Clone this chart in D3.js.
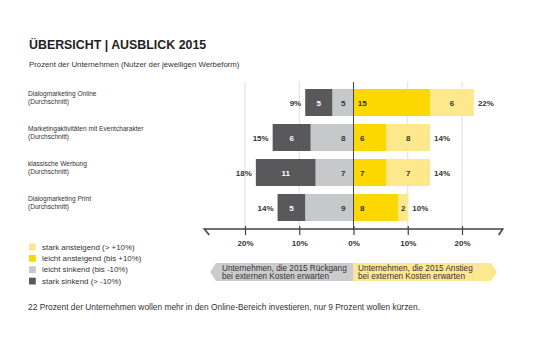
<!DOCTYPE html>
<html><head><meta charset="utf-8">
<script src="https://cdn.jsdelivr.net/npm/d3@7"></script>
<style>body{margin:0;background:#fff}svg{display:block;font-family:"Liberation Sans",Arial,sans-serif}</style>
</head><body><svg id="c" width="535" height="357"></svg>
<script>
const categories = ["Dialogmarketing Online", "Marketingaktivitäten mit Eventcharakter", "klassische Werbung", "Dialogmarketing Print"];
const subLabel = "(Durchschnitt)";
// segment lengths (percent)
const starkSinkend = [5.0, 7.0, 11.0, 5.1];
const leichtSinkend = [3.9, 7.9, 7.0, 8.9];
const leichtAnsteigend = [14.1, 6.1, 6.1, 8.2];
const starkAnsteigend = [8.1, 8.0, 8.0, 1.9];
// printed numbers
const starkSinkendLabels = [5, 6, 11, 5];
const leichtSinkendLabels = [5, 8, 7, 9];
const leichtAnsteigendLabels = [15, 6, 7, 8];
const starkAnsteigendLabels = [6, 8, 7, 2];
const totalDown = [9, 15, 18, 14];
const totalUp = [22, 14, 14, 10];
const tickValues = [-20, -10, 0, 10, 20];
const legendItems = ["stark ansteigend (> +10%)", "leicht ansteigend (bis +10%)", "leicht sinkend (bis -10%)", "stark sinkend (> -10%)"];

const C = {dark:"#59595b", gray:"#c7c8c9", yellow:"#fdd800", lightYellow:"#fde98c", bannerGray:"#cbcccd", bannerYellow:"#fee88f", text:"#333"};
const legendColors = [C.lightYellow, C.yellow, C.gray, C.dark];

const svg = d3.select("#c");
const x = d3.scaleLinear().domain([-20, 20]).range([245, 462]);
const y = d3.scaleBand().domain(categories).range([85, 225]).paddingInner(0.2286).paddingOuter(0.1143);
const axisY = 229;

svg.append("text").attr("x", 29).attr("y", 49).attr("font-size", 12.4).attr("font-weight", "bold").attr("fill", "#222").text("ÜBERSICHT | AUSBLICK 2015");
svg.append("text").attr("x", 29).attr("y", 67).attr("font-size", 7.8).attr("fill", C.text).text("Prozent der Unternehmen (Nutzer der jeweiligen Werbeform)");

// gridlines
svg.append("g").selectAll("line").data(tickValues.filter(d => d !== 0)).join("line")
  .attr("x1", d => x(d)).attr("x2", d => x(d)).attr("y1", 82).attr("y2", axisY)
  .attr("stroke", "#d6d6d6").attr("stroke-width", 0.8);

// category labels
const cat = svg.append("g").selectAll("g").data(categories).join("g")
  .attr("transform", d => `translate(28,${y(d)})`);
cat.append("text").attr("y", 6.5).attr("font-size", 6.6).attr("fill", C.text).text(d => d);
cat.append("text").attr("y", 15).attr("font-size", 6.6).attr("fill", C.text).text(subLabel);

// bars
const rows = categories.map((c, i) => ({c, i}));
const g = svg.append("g");
const bw = y.bandwidth();
g.selectAll(".ls").data(rows).join("rect").attr("x", d => x(-leichtSinkend[d.i])).attr("width", d => x(0) - x(-leichtSinkend[d.i]))
  .attr("y", d => y(d.c)).attr("height", bw).attr("fill", C.gray);
g.selectAll(".ss").data(rows).join("rect").attr("x", d => x(-leichtSinkend[d.i] - starkSinkend[d.i])).attr("width", d => x(0) - x(-starkSinkend[d.i]))
  .attr("y", d => y(d.c)).attr("height", bw).attr("fill", C.dark);
g.selectAll(".la").data(rows).join("rect").attr("x", x(0)).attr("width", d => x(leichtAnsteigend[d.i]) - x(0))
  .attr("y", d => y(d.c)).attr("height", bw).attr("fill", C.yellow);
g.selectAll(".sa").data(rows).join("rect").attr("x", d => x(leichtAnsteigend[d.i])).attr("width", d => x(starkAnsteigend[d.i]) - x(0))
  .attr("y", d => y(d.c)).attr("height", bw).attr("fill", C.lightYellow);

// labels in bars
const lab = (xf, txt, col, anchor) => g.append("g").selectAll("text").data(rows).join("text")
  .attr("x", xf).attr("y", d => y(d.c) + bw / 2 + 3).attr("font-size", 8).attr("font-weight", "bold")
  .attr("fill", col).attr("text-anchor", anchor || "middle").text(txt);
lab(d => (x(-leichtSinkend[d.i] - starkSinkend[d.i]) + x(-leichtSinkend[d.i])) / 2, d => starkSinkendLabels[d.i], "#fff");
lab(d => x(-1.9), d => leichtSinkendLabels[d.i], "#333");
lab(d => x(1.6), d => leichtAnsteigendLabels[d.i], "#333");
lab(d => (x(leichtAnsteigend[d.i]) + x(leichtAnsteigend[d.i] + starkAnsteigend[d.i])) / 2, d => starkAnsteigendLabels[d.i], "#333");
lab(d => x(-leichtSinkend[d.i] - starkSinkend[d.i]) - 4, d => totalDown[d.i] + "%", "#333", "end");
lab(d => x(leichtAnsteigend[d.i] + starkAnsteigend[d.i]) + 4, d => totalUp[d.i] + "%", "#333", "start");

// zero line
svg.append("line").attr("x1", x(0)).attr("x2", x(0)).attr("y1", 82).attr("y2", axisY).attr("stroke", "#444").attr("stroke-width", 1);

// axis
const xl = x(-27.5), xr = x(27.5);
svg.append("path").attr("d", `M${xl + 5},${axisY + 6} L${xl},${axisY} L${xr},${axisY} L${xr - 4},${axisY + 6}`)
  .attr("fill", "none").attr("stroke", "#444").attr("stroke-width", 1.6);
const ax = svg.append("g").attr("transform", `translate(0,${axisY})`)
  .call(d3.axisBottom(x).tickValues(tickValues).tickSize(8).tickFormat(d => Math.abs(d) + "%"));
ax.select(".domain").remove();
ax.selectAll(".tick line").attr("stroke", "#444").attr("stroke-width", 1.2).attr("y1", -3).attr("y2", 6);
ax.selectAll(".tick text").attr("y", 11).attr("font-size", 8).attr("font-weight", "bold").attr("fill", "#333").attr("font-family", "Liberation Sans, Arial, sans-serif");

// legend
const lg = svg.append("g").selectAll("g").data(legendItems).join("g").attr("transform", (d, i) => `translate(29,${243.5 + i * 11.4})`);
lg.append("rect").attr("width", 6.8).attr("height", 6.8).attr("fill", (d, i) => legendColors[i]);
lg.append("text").attr("x", 13).attr("y", 6).attr("font-size", 7.9).attr("fill", C.text).text(d => d);

// banner
const bt = 263, bb = 281, bm = (bt + bb) / 2;
svg.append("path").attr("d", `M${x(0)},${bt} L216,${bt} L210,${bm} L216,${bb} L${x(0)},${bb} Z`).attr("fill", C.bannerGray);
svg.append("path").attr("d", `M${x(0)},${bt} L491,${bt} L497,${bm} L491,${bb} L${x(0)},${bb} Z`).attr("fill", C.bannerYellow);
const bl = svg.append("g").attr("font-size", 8.2).attr("fill", "#333");
bl.append("text").attr("x", 222).attr("y", bt + 7.5).text("Unternehmen, die 2015 Rückgang");
bl.append("text").attr("x", 222).attr("y", bt + 15.5).text("bei externen Kosten erwarten");
bl.append("text").attr("x", 358).attr("y", bt + 7.5).text("Unternehmen, die 2015 Anstieg");
bl.append("text").attr("x", 358).attr("y", bt + 15.5).text("bei externen Kosten erwarten");

svg.append("text").attr("x", 28).attr("y", 310).attr("font-size", 8.4).attr("fill", C.text)
  .text("22 Prozent der Unternehmen wollen mehr in den Online-Bereich investieren, nur 9 Prozent wollen kürzen.");
</script></body></html>
